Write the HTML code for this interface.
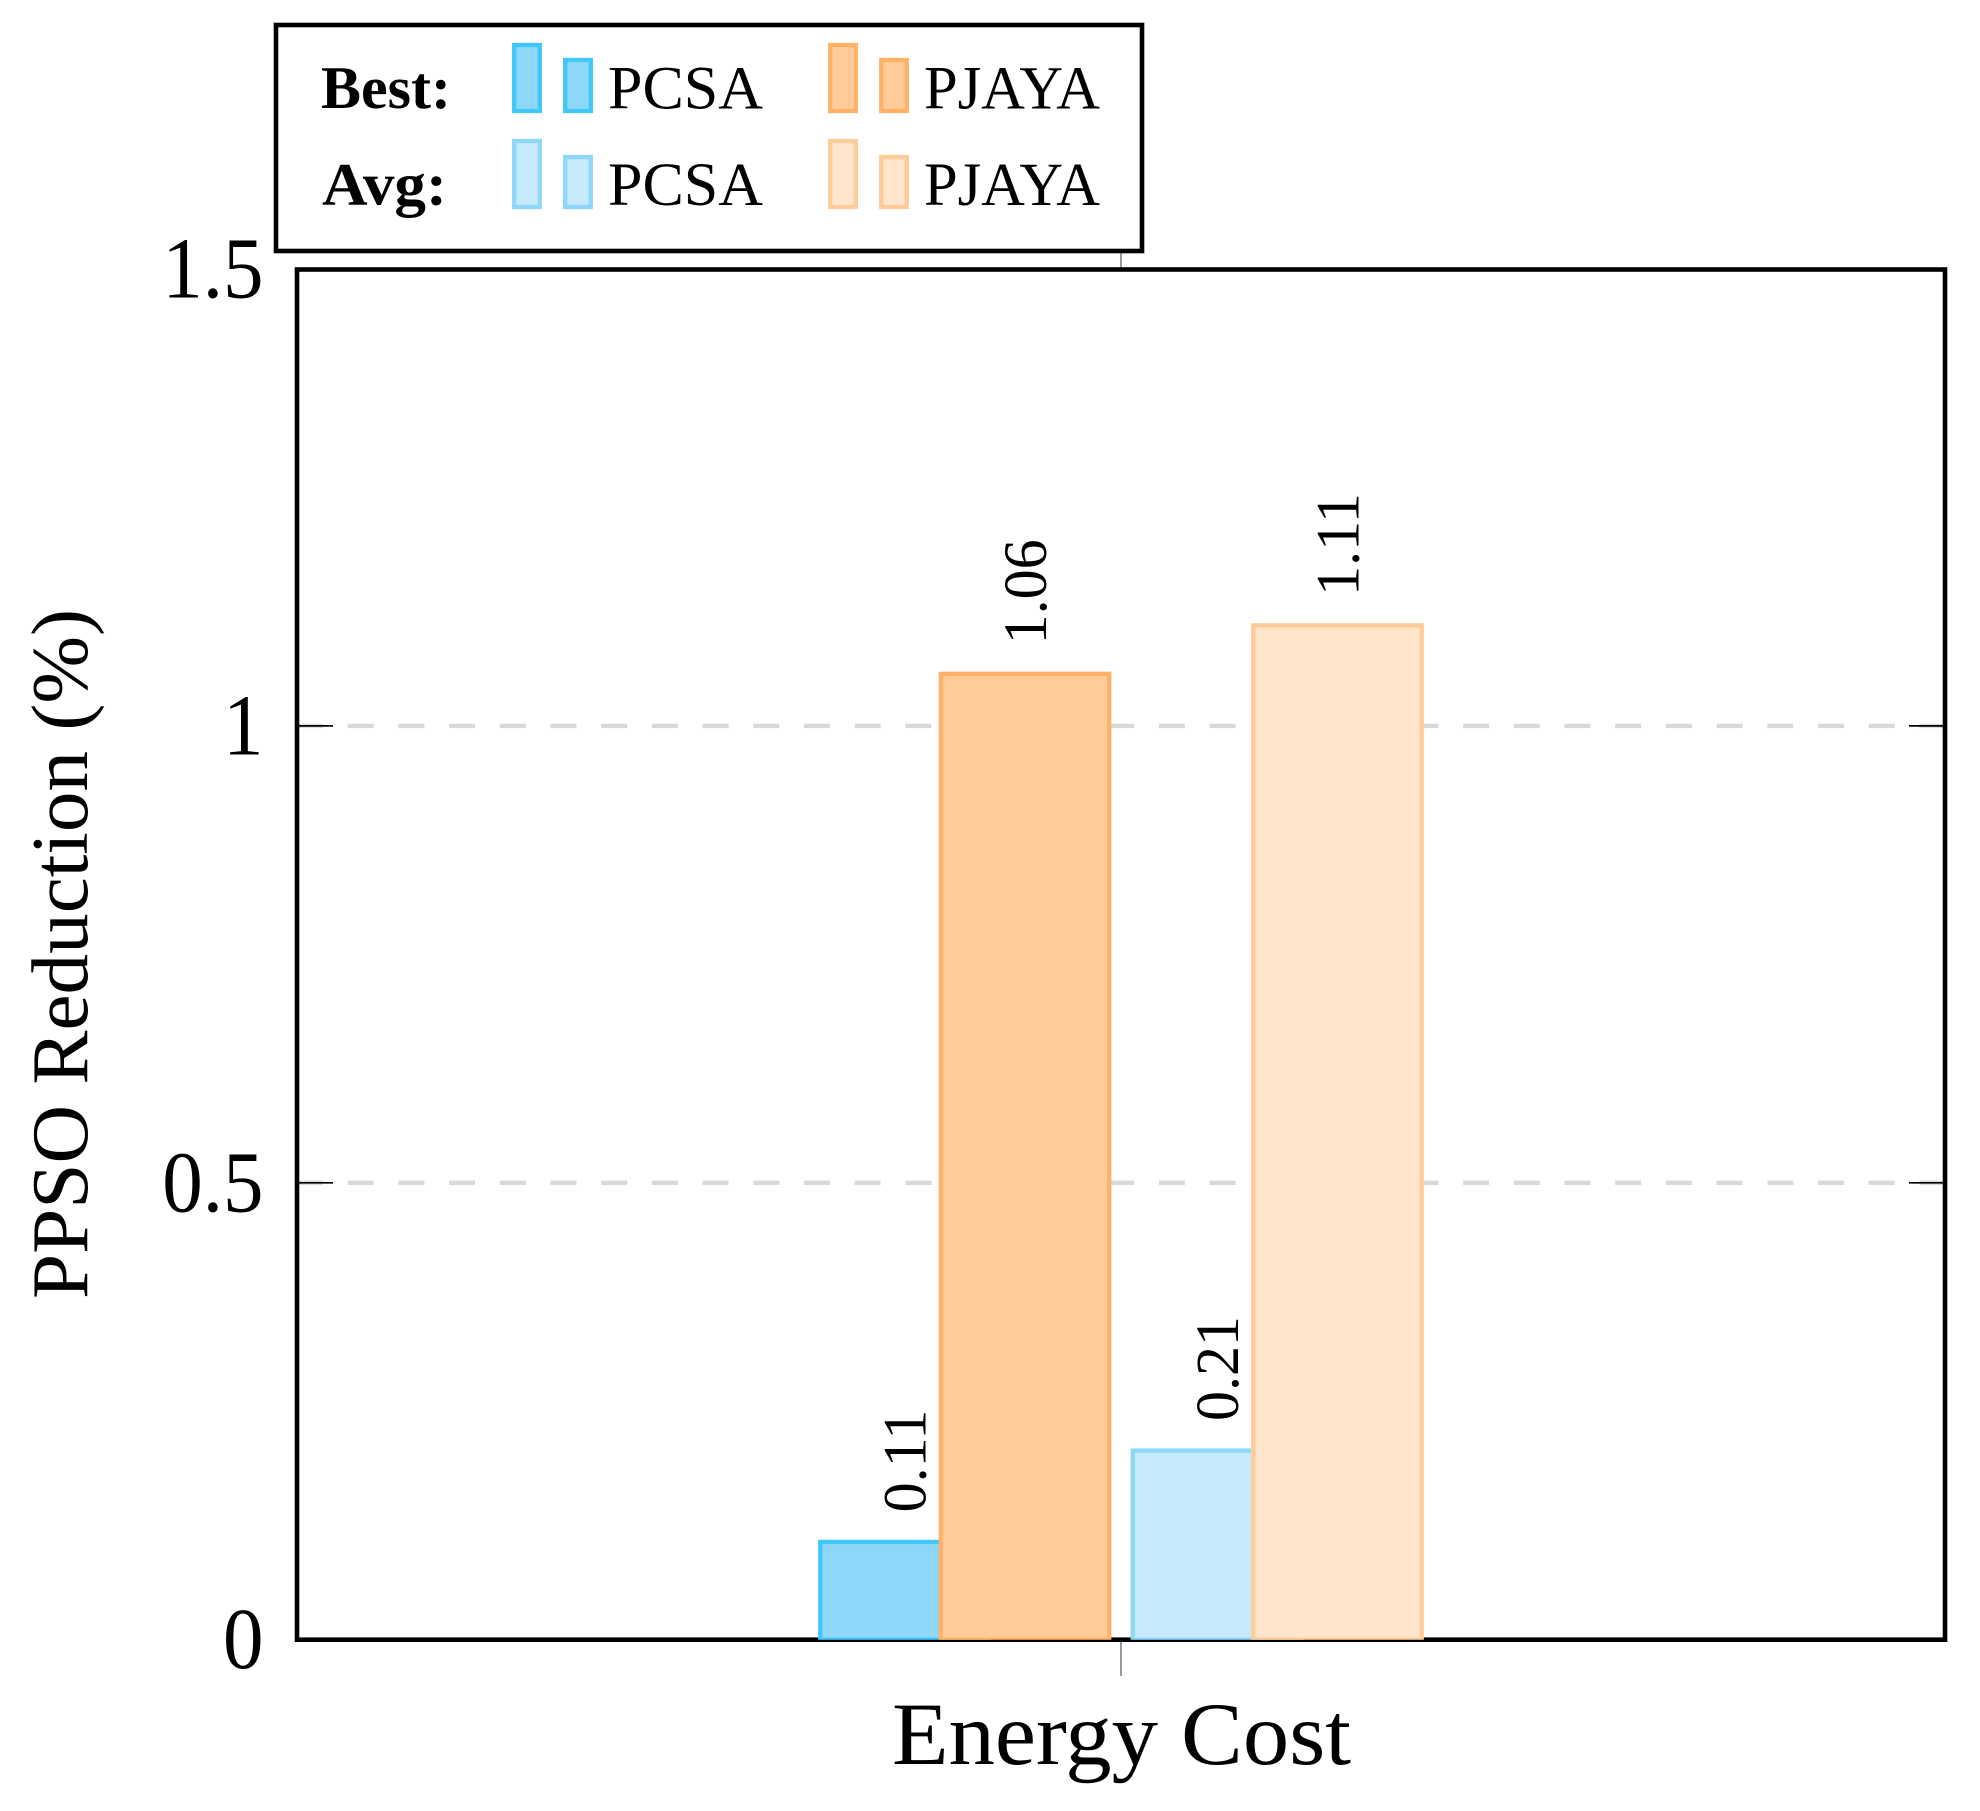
<!DOCTYPE html>
<html lang="en">
<head>
<meta charset="utf-8">
<title>PPSO Reduction bar chart</title>
<style>
html,body{margin:0;padding:0;background:#fff;}
svg{display:block;font-family:"Liberation Serif",serif;}
text{fill:#000;}
</style>
</head>
<body>
<svg id="chart" xmlns="http://www.w3.org/2000/svg" width="1980" height="1811" viewBox="0 0 1980 1811">
  <rect x="0" y="0" width="1980" height="1811" fill="#fff"/>
  <defs>
    <clipPath id="plot-clip"><rect x="297" y="269" width="1648" height="1370.7"/></clipPath>
  </defs>
  <g id="grid"></g>
  <line x1="1121" y1="269" x2="1121" y2="233" stroke="#808080" stroke-width="1.6"/>
  <line x1="1121" y1="1640" x2="1121" y2="1676" stroke="#808080" stroke-width="1.6"/>
  <g id="ticks"></g>
  <rect x="297" y="269.5" width="1648" height="1370.2" fill="none" stroke="#000" stroke-width="4.6"/>
  <g id="bars" clip-path="url(#plot-clip)"></g>
  <g id="labels"></g>
  <g id="ytick-labels"></g>
  <text transform="translate(87,1299) rotate(-90)" font-size="80" textLength="690" lengthAdjust="spacingAndGlyphs">PPSO Reduction (%)</text>
  <text id="x-category" x="892" y="1764" font-size="89" textLength="459" lengthAdjust="spacingAndGlyphs"></text>

  <g>
    <rect x="276" y="25" width="866" height="226" fill="#fff" stroke="#000" stroke-width="4.6"/>
    <text x="321" y="108" font-size="60" font-weight="bold" textLength="130" lengthAdjust="spacingAndGlyphs">Best:</text>
    <text x="322" y="204.5" font-size="60" font-weight="bold" textLength="125" lengthAdjust="spacingAndGlyphs">Avg:</text>

    <g>
      <rect x="514.2" y="45" width="25.6" height="66" fill="#8DD8F8" stroke="#40C8F8" stroke-width="4.3"/>
      <rect x="565.2" y="60" width="25.6" height="51" fill="#8DD8F8" stroke="#40C8F8" stroke-width="4.3"/>
      <text x="608" y="108.5" font-size="61" textLength="155" lengthAdjust="spacingAndGlyphs">PCSA</text>
    </g>
    <g>
      <rect x="830.2" y="45" width="25.6" height="66" fill="#FFCC99" stroke="#FFB266" stroke-width="4.3"/>
      <rect x="881.2" y="60" width="25.6" height="51" fill="#FFCC99" stroke="#FFB266" stroke-width="4.3"/>
      <text x="924" y="108.5" font-size="61" textLength="176" lengthAdjust="spacingAndGlyphs">PJAYA</text>
    </g>
    <g>
      <rect x="514.2" y="141" width="25.6" height="66" fill="#C6E9FC" stroke="#8DD8F8" stroke-width="4.3"/>
      <rect x="565.2" y="157" width="25.6" height="50" fill="#C6E9FC" stroke="#8DD8F8" stroke-width="4.3"/>
      <text x="608" y="205" font-size="61" textLength="155" lengthAdjust="spacingAndGlyphs">PCSA</text>
    </g>
    <g>
      <rect x="830.2" y="141" width="25.6" height="66" fill="#FEE5CC" stroke="#FFCC99" stroke-width="4.3"/>
      <rect x="881.2" y="157" width="25.6" height="50" fill="#FEE5CC" stroke="#FFCC99" stroke-width="4.3"/>
      <text x="924" y="205" font-size="61" textLength="176" lengthAdjust="spacingAndGlyphs">PJAYA</text>
    </g>
  </g>
</svg>
<script>
var categories = ["Energy Cost"];
var bestPCSA = [0.107];
var bestPJAYA = [1.057];
var avgPCSA = [0.207];
var avgPJAYA = [1.11];
var yTickValues = [0, 0.5, 1, 1.5];

var NS = "http://www.w3.org/2000/svg";
var plotLeft = 297, plotRight = 1945, plotTop = 269, plotBottom = 1639.7;
var yMin = 0, yMax = 1.5;
var barWidth = 168.5;

function yScale(v) {
  return plotBottom - (v - yMin) / (yMax - yMin) * (plotBottom - plotTop);
}
function xScale(i) {
  return plotLeft + (i + 0.5) / categories.length * (plotRight - plotLeft);
}
function barCenter(i, metricSide, seriesSide) {
  return xScale(i) + metricSide * 156.25 + seriesSide * 60.25;
}
function make(tag, parentId) {
  var el = document.createElementNS(NS, tag);
  document.getElementById(parentId).appendChild(el);
  return el;
}

document.getElementById("x-category").textContent = categories[0];

yTickValues.forEach(function (t) {
  var y = yScale(t);
  if (t > yMin && t < yMax) {
    var g = make("line", "grid");
    
    
    g.setAttribute("x1", plotLeft);
    g.setAttribute("x2", plotRight);
    g.setAttribute("y1", y);
    g.setAttribute("y2", y);
    g.setAttribute("stroke", "#D9D9D9");
    g.setAttribute("stroke-width", "4.4");
    g.setAttribute("stroke-dasharray", "26 24.7");

    var tl = make("line", "ticks");
    
    
    tl.setAttribute("x1", plotLeft);
    tl.setAttribute("x2", plotLeft + 36);
    tl.setAttribute("y1", y);
    tl.setAttribute("y2", y);
    tl.setAttribute("stroke", "#000");
    tl.setAttribute("stroke-width", "1.7");

    var tr = make("line", "ticks");
    
    
    tr.setAttribute("x1", plotRight - 36);
    tr.setAttribute("x2", plotRight);
    tr.setAttribute("y1", y);
    tr.setAttribute("y2", y);
    tr.setAttribute("stroke", "#000");
    tr.setAttribute("stroke-width", "1.7");
  }
  var lab = make("text", "ytick-labels");
  
  
  lab.setAttribute("text-anchor", "end");
  lab.setAttribute("font-size", "81");
  lab.setAttribute("transform", "translate(263.5," + (y + 28.5) + ") scale(1,1.07)");
  lab.textContent = String(t);
});

function drawBars(values, metricSide, seriesSide, fill, stroke, barName, labelName) {
  values.forEach(function (v, i) {
    var cx = barCenter(i, metricSide, seriesSide);
    var top = yScale(v);
    var r = make("rect", "bars");
    
    
    r.setAttribute("x", cx - barWidth / 2);
    r.setAttribute("y", top);
    r.setAttribute("width", barWidth);
    r.setAttribute("height", yScale(0) - top);
    r.setAttribute("fill", fill);
    r.setAttribute("stroke", stroke);
    r.setAttribute("stroke-width", "4.3");

    var t = make("text", "labels");
    
    
    t.setAttribute("font-size", "60");
    t.setAttribute("transform", "translate(" + (cx + 21) + "," + (top - 29.5) + ") rotate(-90) scale(1,1.03)");
    t.textContent = v.toFixed(2);
  });
}

drawBars(bestPCSA, -1, -1, "#8DD8F8", "#40C8F8", "bar-best-pcsa", "value-label-best-pcsa");
drawBars(bestPJAYA, -1, 1, "#FFCC99", "#FFB266", "bar-best-pjaya", "value-label-best-pjaya");
drawBars(avgPCSA, 1, -1, "#C6E9FC", "#8DD8F8", "bar-avg-pcsa", "value-label-avg-pcsa");
drawBars(avgPJAYA, 1, 1, "#FEE5CC", "#FFCC99", "bar-avg-pjaya", "value-label-avg-pjaya");
</script>
</body>
</html>
